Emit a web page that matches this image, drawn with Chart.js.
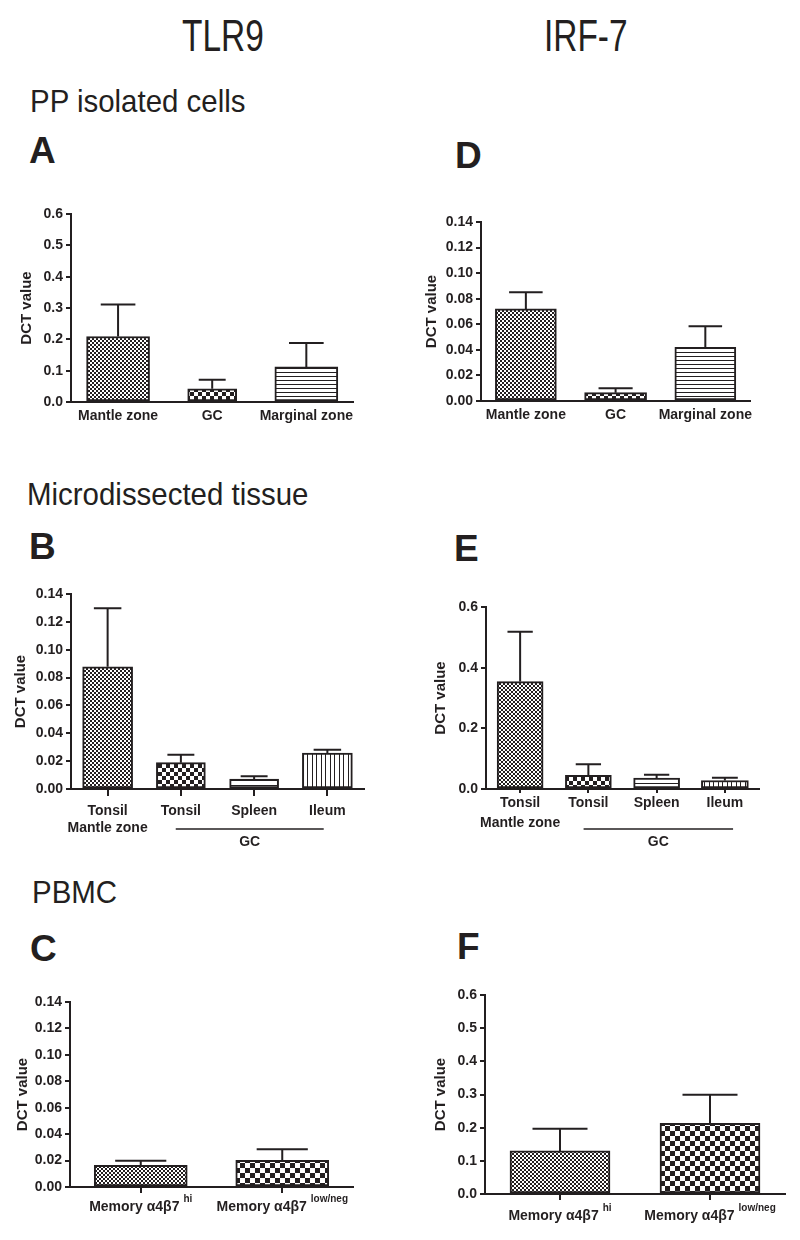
<!DOCTYPE html>
<html>
<head>
<meta charset="utf-8">
<script src="https://cdn.jsdelivr.net/npm/chart.js@4.4.0/dist/chart.umd.min.js"></script>
<style>
body { margin: 0; background: #fff; }
#page { position: relative; width: 800px; height: 1240px; overflow: hidden; font-family: "Liberation Sans", Arial, sans-serif; color: #231f20; }
.h { position: absolute; white-space: nowrap; line-height: 1; transform-origin: left top; }
.gene { font-size: 44px; transform: scaleX(0.76); }
.sec { font-size: 32px; transform: scaleX(0.92); }
.lett { font-size: 37px; font-weight: bold; }
canvas { position: absolute; }
</style>
</head>
<body>
<div id="page">
  <div class="h gene" style="left:182px;top:14px;">TLR9</div>
  <div class="h gene" style="left:544px;top:14px;">IRF-7</div>
  <div class="h sec" style="left:30px;top:85px;">PP isolated cells</div>
  <div class="h lett" style="left:29px;top:132px;">A</div>
  <div class="h lett" style="left:455px;top:137px;">D</div>
  <div class="h sec" style="left:27px;top:478px;">Microdissected tissue</div>
  <div class="h lett" style="left:29px;top:528px;">B</div>
  <div class="h lett" style="left:454px;top:530px;">E</div>
  <div class="h sec" style="left:32px;top:876px;">PBMC</div>
  <div class="h lett" style="left:30px;top:930px;">C</div>
  <div class="h lett" style="left:457px;top:928px;">F</div>

  <canvas id="chartA"></canvas>
  <canvas id="chartD"></canvas>
  <canvas id="chartB"></canvas>
  <canvas id="chartE"></canvas>
  <canvas id="chartC"></canvas>
  <canvas id="chartF"></canvas>
</div>

<script>
// PP isolated cells
var ppLabels = ['Mantle zone', 'GC', 'Marginal zone'];
var tlr9PpMean = [0.209, 0.042, 0.112];
var tlr9PpSem = [0.102, 0.029, 0.076];
var irf7PpMean = [0.072, 0.0065, 0.042];
var irf7PpSem = [0.013, 0.0034, 0.0165];

// Microdissected tissue
var tissueLabels = [['Tonsil', 'Mantle zone'], 'Tonsil', 'Spleen', 'Ileum'];
var tlr9TissueMean = [0.0877, 0.0189, 0.0072, 0.0258];
var tlr9TissueSem = [0.042, 0.0057, 0.0019, 0.0024];
var irf7TissueMean = [0.354, 0.045, 0.036, 0.028];
var irf7TissueSem = [0.164, 0.037, 0.011, 0.009];

// PBMC
var pbmcLabels = ['Memory \u03b14\u03b27', 'Memory \u03b14\u03b27'];
var pbmcSup = ['hi', 'low/neg'];
var tlr9PbmcMean = [0.0164, 0.0202];
var tlr9PbmcSem = [0.0035, 0.0083];
var irf7PbmcMean = [0.130, 0.213];
var irf7PbmcSem = [0.067, 0.086];

// y axes: max, step, decimals
var yTlr9Pp = [0.6, 0.1, 1];
var yIrf7Pp = [0.14, 0.02, 2];
var yTlr9Tissue = [0.14, 0.02, 2];
var yIrf7Tissue = [0.6, 0.2, 1];
var yTlr9Pbmc = [0.14, 0.02, 2];
var yIrf7Pbmc = [0.6, 0.1, 1];

var ink = '#231f20';
var FONT = '"Liberation Sans", Arial, sans-serif';
Chart.defaults.font.family = FONT;
Chart.defaults.color = ink;

function makePattern(kind, size) {
    var c = document.createElement('canvas');
    var g = c.getContext('2d');
    if (kind === 'check') {
        c.width = size * 2; c.height = size * 2;
        g.fillStyle = '#fff'; g.fillRect(0, 0, c.width, c.height);
        g.fillStyle = ink;
        g.fillRect(0, 0, size, size);
        g.fillRect(size, size, size, size);
    } else if (kind === 'hline') {
        c.width = 4; c.height = size;
        g.fillStyle = '#fff'; g.fillRect(0, 0, c.width, c.height);
        g.fillStyle = ink; g.fillRect(0, 0, 4, 1);
    } else if (kind === 'vline') {
        c.width = 9; c.height = 4;
        g.fillStyle = '#fff'; g.fillRect(0, 0, c.width, c.height);
        g.fillStyle = ink; g.fillRect(0, 0, 1, 4); g.fillRect(4, 0, 1, 4);
    }
    return g.createPattern(c, 'repeat');
}

var fine = makePattern('check', 2);
var coarse = makePattern('check', 4);
var coarse5 = makePattern('check', 5);
var stripes = makePattern('hline', 4);
var stripes5 = makePattern('hline', 5);
var vstripes = makePattern('vline');

var errorBars = {
    id: 'errorBars',
    afterDatasetsDraw: function (chart, args, opts) {
        var ctx = chart.ctx;
        var y = chart.scales.y;
        ctx.save();
        ctx.strokeStyle = ink;
        ctx.lineWidth = 2;
        chart.data.datasets.forEach(function (ds, i) {
            var meta = chart.getDatasetMeta(i);
            meta.data.forEach(function (bar, j) {
                if (ds.data[j] === null) return;
                var top = y.getPixelForValue(ds.data[j] + opts.sem[j]);
                var half = bar.width * 0.55 / 2;
                ctx.beginPath();
                ctx.moveTo(bar.x, bar.y);
                ctx.lineTo(bar.x, top);
                ctx.moveTo(bar.x - half, top);
                ctx.lineTo(bar.x + half, top);
                ctx.stroke();
            });
        });
        ctx.restore();
    }
};

var gcBracket = {
    id: 'gcBracket',
    afterDraw: function (chart, args, opts) {
        if (!opts.text) return;
        var x = chart.scales.x;
        var ctx = chart.ctx;
        var step = x.getPixelForValue(1) - x.getPixelForValue(0);
        var x0 = x.getPixelForValue(opts.from) - 0.07 * step;
        var x1 = x.getPixelForValue(opts.to) + opts.ext * step;
        var yb = chart.chartArea.bottom + 40;
        ctx.save();
        ctx.strokeStyle = ink;
        ctx.lineWidth = 1.5;
        ctx.beginPath();
        ctx.moveTo(x0, yb);
        ctx.lineTo(x1, yb);
        ctx.stroke();
        ctx.fillStyle = ink;
        ctx.font = 'bold 14px ' + FONT;
        ctx.textAlign = 'center';
        ctx.textBaseline = 'middle';
        ctx.fillText(opts.text, (x0 + x1) / 2, yb + 13);
        ctx.restore();
    }
};

var supLabels = {
    id: 'supLabels',
    afterDraw: function (chart, args, opts) {
        if (!opts.main) return;
        var x = chart.scales.x;
        var ctx = chart.ctx;
        var yb = chart.chartArea.bottom + opts.dy;
        ctx.save();
        ctx.fillStyle = ink;
        ctx.textBaseline = 'alphabetic';
        ctx.textAlign = 'left';
        opts.main.forEach(function (txt, i) {
            ctx.font = 'bold 14px ' + FONT;
            var w1 = ctx.measureText(txt).width;
            ctx.font = 'bold 10px ' + FONT;
            var w2 = ctx.measureText(opts.sup[i]).width;
            var x0 = x.getPixelForValue(i) - (w1 + 4 + w2) / 2;
            ctx.font = 'bold 14px ' + FONT;
            ctx.fillText(txt, x0, yb);
            ctx.font = 'bold 10px ' + FONT;
            ctx.fillText(opts.sup[i], x0 + w1 + 4, yb - 9);
        });
        ctx.restore();
    }
};

function barSets(means, fills, widths) {
    return means.map(function (m, i) {
        return {
            data: means.map(function (v, j) { return j === i ? v : null; }),
            backgroundColor: fills[i],
            borderColor: ink,
            borderWidth: 2,
            borderSkipped: false,
            barThickness: widths[i],
            grouped: false
        };
    });
}

function drawPanel(id, g, labels, means, sems, yAxis, fills, widths, extra) {
    var yW = 65, padTop = 14, padRight = 6;
    var canvas = document.getElementById(id);
    var left = g.axisX - yW;
    canvas.style.left = left + 'px';
    canvas.style.top = (g.top - padTop) + 'px';
    canvas.width = g.right + padRight - left;
    canvas.height = g.zero - g.top + padTop + g.xH;

    var pluginOpts = {
        legend: { display: false },
        tooltip: { enabled: false },
        errorBars: { sem: sems },
        gcBracket: extra.bracket || {},
        supLabels: extra.sup || {}
    };

    new Chart(canvas.getContext('2d'), {
        type: 'bar',
        data: { labels: labels, datasets: barSets(means, fills, widths) },
        options: {
            responsive: false,
            animation: false,
            events: [],
            layout: { padding: { top: padTop, right: padRight, bottom: 0, left: 0 } },
            plugins: pluginOpts,
            scales: {
                x: {
                    offset: true,
                    grid: { display: true, drawOnChartArea: false, drawTicks: g.tick > 0, tickLength: g.tick, offset: false, color: ink, lineWidth: 2 },
                    border: { display: true, color: ink, width: 2 },
                    ticks: { display: !extra.sup, padding: g.pad, maxRotation: 0, autoSkip: false, color: ink, font: { size: 14, weight: 'bold', lineHeight: g.lh } },
                    afterFit: function (s) { s.height = g.xH; }
                },
                y: {
                    min: 0,
                    max: yAxis[0],
                    grid: { display: true, drawOnChartArea: false, drawTicks: true, tickLength: 5, color: ink, lineWidth: 2 },
                    border: { display: true, color: ink, width: 2 },
                    ticks: {
                        stepSize: yAxis[1],
                        padding: 3,
                        color: ink,
                        font: { size: 14, weight: 'bold' },
                        callback: function (v) { return v.toFixed(yAxis[2]); }
                    },
                    title: {
                        display: true,
                        text: 'DCT value',
                        color: ink,
                        font: { size: 15, weight: 'bold' },
                        padding: { top: g.titleX - left - 9, bottom: 0 }
                    },
                    afterFit: function (s) { s.width = yW; }
                }
            }
        },
        plugins: [errorBars, gcBracket, supLabels]
    });
}

drawPanel('chartA', { axisX: 71, top: 214, zero: 402, right: 354, titleX: 27, xH: 40, tick: 0, pad: 6, lh: 1.2 },
    ppLabels, tlr9PpMean, tlr9PpSem, yTlr9Pp, [fine, coarse, stripes], [63, 49, 63], {});

drawPanel('chartD', { axisX: 481, top: 222, zero: 401, right: 753, titleX: 432, xH: 40, tick: 0, pad: 6, lh: 1.2 },
    ppLabels, irf7PpMean, irf7PpSem, yIrf7Pp, [fine, coarse, stripes], [61, 62, 61], {});

drawPanel('chartB', { axisX: 71, top: 594, zero: 789, right: 364, titleX: 21, xH: 66, tick: 7, pad: 6.5, lh: 1.21 },
    tissueLabels, tlr9TissueMean, tlr9TissueSem, yTlr9Tissue, [fine, coarse, stripes5, vstripes], [50, 49, 49, 50],
    { bracket: { text: 'GC', from: 1, to: 3, ext: -0.05 } });

drawPanel('chartE', { axisX: 486, top: 607, zero: 789, right: 759, titleX: 441, xH: 66, tick: 4, pad: 0, lh: 1.43 },
    tissueLabels, irf7TissueMean, irf7TissueSem, yIrf7Tissue, [fine, coarse, stripes5, vstripes], [46, 46, 46, 47],
    { bracket: { text: 'GC', from: 1, to: 3, ext: 0.12 } });

drawPanel('chartC', { axisX: 70, top: 1002, zero: 1187, right: 353, titleX: 23, xH: 44, tick: 6, pad: 0, lh: 1.2 },
    pbmcLabels, tlr9PbmcMean, tlr9PbmcSem, yTlr9Pbmc, [fine, coarse5], [93, 93],
    { sup: { main: pbmcLabels, sup: pbmcSup, dy: 24 } });

drawPanel('chartF', { axisX: 485, top: 995, zero: 1194, right: 785, titleX: 441, xH: 40, tick: 6, pad: 0, lh: 1.2 },
    pbmcLabels, irf7PbmcMean, irf7PbmcSem, yIrf7Pbmc, [fine, coarse5], [100, 100],
    { sup: { main: pbmcLabels, sup: pbmcSup, dy: 26 } });
</script>
</body>
</html>
